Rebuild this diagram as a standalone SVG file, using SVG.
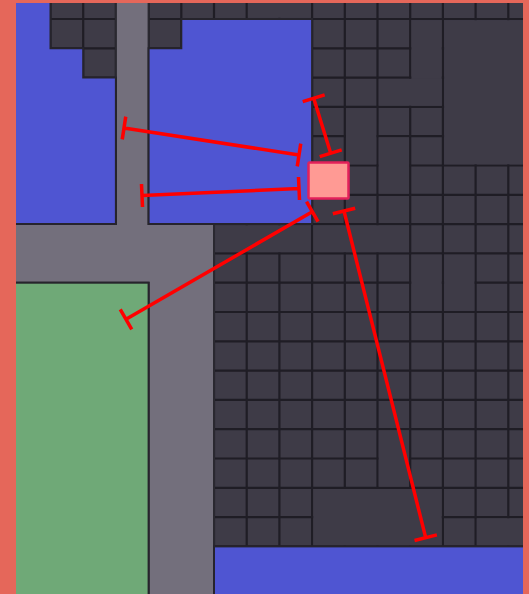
<svg xmlns="http://www.w3.org/2000/svg" width="529" height="594" viewBox="0 0 529 594">
  <style>
    .cell { fill: #3e3b47; }
    .gl { stroke: #1f1d25; stroke-width: 2.2; fill: none; }
    .road { fill: #736f7c; stroke: #2a2830; stroke-width: 2; }
    .blue { fill: #4f55d2; stroke: #26242c; stroke-width: 2; }
    .green { fill: #6fa977; stroke: #26242c; stroke-width: 2; }
    .frame { fill: #e5675a; }
    .pink { fill: #ff9a94; stroke: #e3215a; stroke-width: 2.5; }
    .conn { stroke: #ff0000; stroke-width: 3.5; fill: none; stroke-linecap: butt; }
  </style>

  <!-- dark block background -->
  <rect id="background" class="cell" x="0" y="0" width="529" height="594"/>

  <!-- grid lines of the dark blocks -->
  <g id="grid">
    <path class="gl" d="M50.5 0V594M83.2 0V594M115.9 0V594M148.6 0V594M181.3 0V594M214 0V594M246.7 0V594M279.4 0V594M312.1 0V594M344.8 0V594M377.5 0V594M410.2 0V594M442.9 0V594M475.6 0V594M508.3 0V594"/>
    <path class="gl" d="M0 19H529M0 48.3H529M0 77.6H529M0 106.9H529M0 136.2H529M0 165.5H529M0 194.8H529M0 224.1H529M0 253.4H529M0 282.7H529M0 312H529M0 341.3H529M0 370.6H529M0 399.9H529M0 429.2H529M0 458.5H529M0 487.8H529M0 517.1H529M0 546.4H529"/>
    <!-- merged cells -->
    <g class="cell">
      <rect x="247.9" y="0" width="63.1" height="17.8"/>
      <rect x="411.4" y="20.2" width="30.3" height="85.5"/>
      <rect x="378.7" y="78.8" width="63" height="26.9"/>
      <rect x="444.1" y="20.2" width="85" height="144.1"/>
      <rect x="346" y="108.1" width="30.3" height="56.2"/>
      <rect x="378.7" y="137.4" width="30.3" height="56.2"/>
      <rect x="215.2" y="225.3" width="95.7" height="26.9"/>
      <rect x="313.3" y="225.3" width="95.7" height="26.9"/>
      <rect x="411.4" y="254.6" width="30.3" height="56.2"/>
      <rect x="444.1" y="254.6" width="30.3" height="56.2"/>
      <rect x="378.7" y="430.4" width="30.3" height="56.2"/>
      <rect x="313.3" y="489" width="128.4" height="56.2"/>
      <rect x="476.8" y="518.3" width="52.2" height="26.9"/>
    </g>
  </g>

  <!-- regions -->
  <g id="regions">
    <polygon id="road" class="road" points="115.9,-5 148.6,-5 148.6,224.1 214,224.1 214,600 148.6,600 148.6,282.7 10,282.7 10,224.1 115.9,224.1"/>
    <polygon id="blue-left" class="blue" points="10,-5 50.5,-5 50.5,48.3 83.2,48.3 83.2,77.6 115.9,77.6 115.9,224.1 10,224.1"/>
    <polygon id="blue-middle" class="blue" points="181.3,19 312.1,19 312.1,224.1 148.6,224.1 148.6,48.3 181.3,48.3"/>
    <rect id="green" class="green" x="10" y="282.7" width="138.6" height="320"/>
    <rect id="blue-bottom" class="blue" x="214" y="546.4" width="320" height="60"/>
  </g>

  <!-- frame -->
  <g id="frame">
    <rect class="frame" x="0" y="0" width="16" height="594"/>
    <rect class="frame" x="523" y="0" width="6" height="594"/>
    <rect class="frame" x="0" y="0" width="529" height="3"/>
  </g>

  <!-- pink node -->
  <g id="node-pink">
    <rect class="pink" x="308.5" y="162.5" width="40" height="36" rx="1"/>
  </g>

  <!-- connectors (dimension lines with bar ends) -->
  <g id="connectors">
    <path class="conn" d="M124 128L299 155M125.75 116.63L122.25 139.37M300.75 143.63L297.25 166.37"/>
    <path class="conn" d="M142 195.5L299 188.5M141.49 184.01L142.51 206.99M298.49 177.01L299.51 199.99"/>
    <path class="conn" d="M126 319.3L312.3 211.7M120.25 309.34L131.75 329.26M306.55 201.74L318.05 221.66"/>
    <path class="conn" d="M313.7 98.3L330.7 153.3M324.68 94.91L302.72 101.69M341.68 149.91L319.72 156.69"/>
    <path class="conn" d="M344 211L425.7 537.7M355.16 208.21L332.84 213.79M436.86 534.91L414.54 540.49"/>
  </g>
</svg>
